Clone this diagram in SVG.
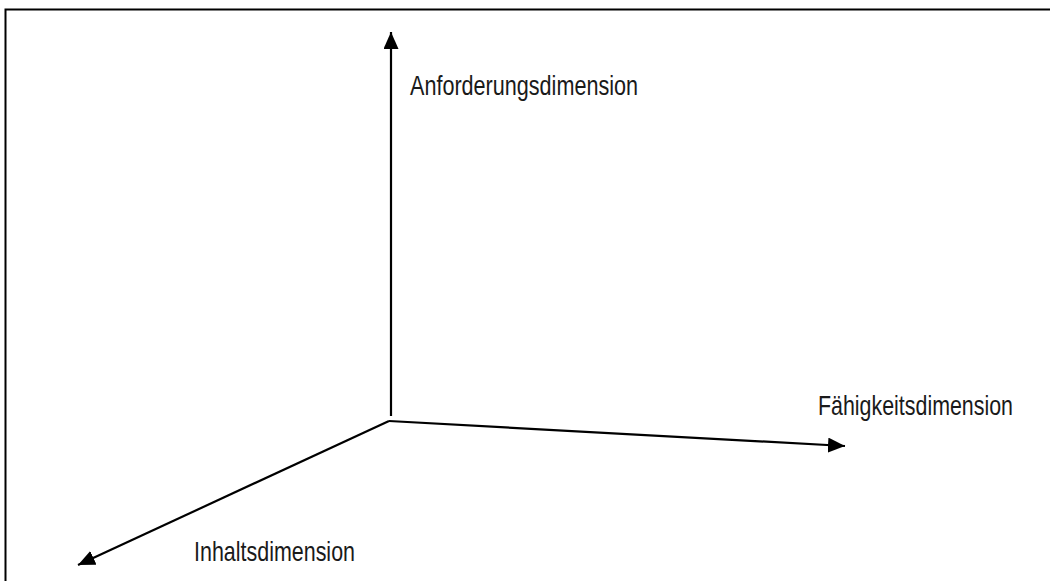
<svg xmlns="http://www.w3.org/2000/svg" width="1050" height="581" viewBox="0 0 1050 581">
<style>
.lbl{font-family:"Liberation Sans",Arial,sans-serif;font-size:27px;fill:#1a1a1a}
.ax{stroke:#000;stroke-width:2.2;fill:none}
</style>
<defs>
<marker id="ah" markerWidth="17" markerHeight="15" refX="17" refY="7.5" orient="auto" markerUnits="userSpaceOnUse">
<path d="M0,0 L17,7.5 L0,15 Z" fill="#000"/>
</marker>
</defs>
<rect x="0" y="0" width="1050" height="581" fill="#fff"/>
<rect x="5.5" y="9.5" width="1060" height="600" fill="none" stroke="#000" stroke-width="2"/>
<g id="connectors">
<line class="ax" x1="391" y1="416" x2="391" y2="32" marker-end="url(#ah)"/>
<line class="ax" x1="389" y1="421" x2="845" y2="446" marker-end="url(#ah)"/>
<line class="ax" x1="389" y1="421" x2="78" y2="565" marker-end="url(#ah)"/>
</g>
<g id="label-anforderung"><text class="lbl" transform="translate(410,95) scale(0.8,1)" x="0" y="0" textLength="285" lengthAdjust="spacingAndGlyphs">Anforderungsdimension</text></g>
<g id="label-faehigkeit"><text class="lbl" transform="translate(818,415) scale(0.8,1)" x="0" y="0" textLength="243.75" lengthAdjust="spacingAndGlyphs">Fähigkeitsdimension</text></g>
<g id="label-inhalt"><text class="lbl" transform="translate(194,561) scale(0.8,1)" x="0" y="0" textLength="201.25" lengthAdjust="spacingAndGlyphs">Inhaltsdimension</text></g>
</svg>
